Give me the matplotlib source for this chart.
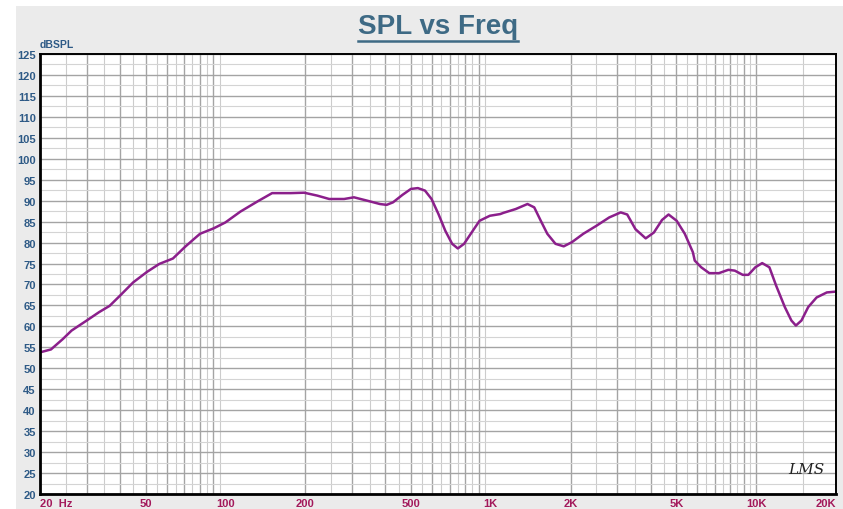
import numpy as np
import matplotlib.pyplot as plt
from matplotlib.ticker import FixedLocator, MultipleLocator, NullFormatter
from matplotlib.patches import Rectangle
from matplotlib.lines import Line2D

plt.rcParams['font.family'] = ['Liberation Sans', 'DejaVu Sans']

# frequency response
freq = [20, 22, 24.4, 26.3, 30, 33.4, 36.6, 40, 44.9, 50.6, 56.3, 63.4, 70.2,
        75.6, 80.2, 90.3, 99.9, 113.9, 131.9, 149.9, 176, 198, 222, 246, 280,
        305, 342, 382, 405, 428, 465, 500, 531, 565, 598, 635, 674, 715, 751,
        793, 855, 907, 992, 1085, 1117, 1241, 1375, 1458, 1543, 1633, 1753,
        1883, 2022, 2232, 2500, 2795, 3088, 3267, 3509, 3836, 4118, 4420, 4677,
        5018, 5384, 5776, 5870, 6209, 6662, 7237, 7862, 8310, 8904, 9351, 9930,
        10540, 11220, 11900, 12830, 13580, 14120, 14820, 15710, 16900, 18470,
        20000]
spl = [53.8, 54.5, 57.0, 59.0, 61.4, 63.4, 64.9, 67.3, 70.5, 73.0, 74.9, 76.2,
       78.9, 80.7, 82.1, 83.4, 84.8, 87.4, 89.8, 91.8, 91.8, 91.9, 91.2, 90.4,
       90.4, 90.8, 90.0, 89.2, 89.0, 89.6, 91.4, 92.8, 93.0, 92.4, 90.4, 86.8,
       82.8, 79.7, 78.6, 79.7, 82.8, 85.2, 86.4, 86.8, 87.1, 88.0, 89.2, 88.4,
       85.2, 82.1, 79.7, 79.1, 80.1, 82.1, 84.0, 86.0, 87.2, 86.7, 83.2, 81.0,
       82.4, 85.4, 86.7, 85.2, 82.1, 77.7, 75.7, 74.1, 72.7, 72.7, 73.5, 73.3,
       72.3, 72.3, 74.1, 75.1, 74.1, 69.7, 64.6, 61.4, 60.2, 61.4, 64.6, 66.9,
       68.1, 68.3]

x_labels = {50: '50', 100: '100', 200: '200', 500: '500', 1000: '1K',
            2000: '2K', 5000: '5K', 10000: '10K', 20000: '20K'}

fig = plt.figure(figsize=(8.43, 5.1), dpi=100, facecolor='white')
fig.patches.append(Rectangle((16 / 843, 0), 1, 503 / 510, transform=fig.transFigure,
                             facecolor='#ebebeb', edgecolor='none', zorder=-10))

ax = fig.add_axes([40 / 843, 15 / 510, 796 / 843, 440 / 510])
ax.set_facecolor('white')
ax.set_xscale('log')
ax.set_xlim(20, 20000)
ax.set_ylim(20, 125)

# grid: darker lines at 1..9 x decade, lighter at the half steps
major = [m * d for d in (10, 100, 1000) for m in range(2, 10)] + [10000, 20000]
minor = [m * d + d / 2 for d in (10, 100, 1000) for m in range(2, 10)] + [15000]
for f in major:
    ax.axvline(f, color='#a4a4a4', lw=1.0, zorder=1)
for f in minor:
    ax.axvline(f, color='#cccccc', lw=0.8, zorder=1)
ax.yaxis.set_major_locator(MultipleLocator(5))
ax.yaxis.set_minor_locator(MultipleLocator(2.5))
ax.grid(True, which='major', axis='y', color='#a4a4a4', lw=1.0, zorder=1)
ax.grid(True, which='minor', axis='y', color='#d4d4d4', lw=0.8, zorder=1)

ax.xaxis.set_major_locator(FixedLocator(list(x_labels.keys())))
ax.set_xticklabels(list(x_labels.values()))
ax.xaxis.set_minor_formatter(NullFormatter())
ax.xaxis.set_minor_locator(FixedLocator([]))
ax.tick_params(axis='x', length=0, pad=3, labelsize=8, labelcolor='#a3195b')
ax.tick_params(axis='y', which='both', length=0, pad=3, labelsize=8, labelcolor='#2e5a86')
for lab in ax.get_xticklabels() + ax.get_yticklabels():
    lab.set_fontweight('bold')
ax.get_xticklabels()[-1].set_ha('right')

ax.text(0, -0.009, '20  Hz', transform=ax.transAxes, ha='left', va='top',
        fontsize=8, fontweight='bold', color='#a3195b')
ax.text(0.0, 1.012, 'dBSPL', transform=ax.transAxes, ha='left', va='bottom',
        fontsize=7.5, fontweight='bold', color='#2e5a86')

for s in ax.spines.values():
    s.set_color('black')
    s.set_linewidth(1.4)
    s.set_zorder(5)
ax.spines['left'].set_linewidth(2)
ax.spines['bottom'].set_linewidth(2)

ax.plot(freq, spl, color='#8b1f8b', lw=1.8, zorder=3, solid_joinstyle='round')

ax.text(0.985, 0.04, 'LMS', transform=ax.transAxes, ha='right', va='bottom',
        fontsize=11, fontstyle='italic', family='DejaVu Serif', color='#222222')

title = fig.text(438 / 843, 1 - 27 / 510, 'SPL vs Freq', ha='center', va='center',
                 fontsize=20, fontweight='bold', color='#3e6a85')
fig.canvas.draw()
bb = title.get_window_extent().transformed(fig.transFigure.inverted())
fig.lines.append(Line2D([bb.x0, bb.x1], [1 - 42 / 510] * 2, transform=fig.transFigure,
                        color='#3e6a85', lw=1.8))

fig.savefig('out.png', dpi=100, facecolor=fig.get_facecolor())
